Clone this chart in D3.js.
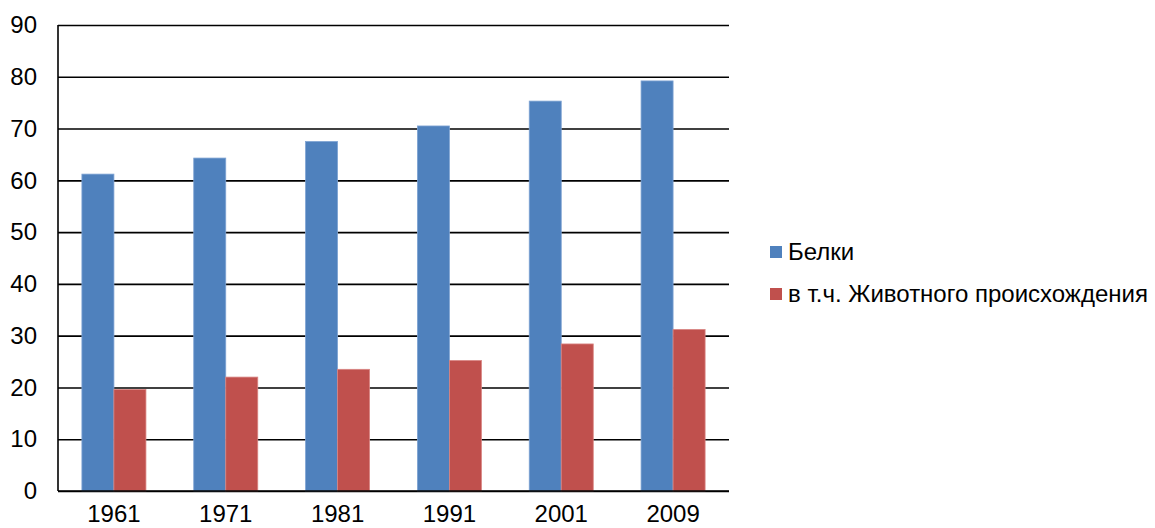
<!DOCTYPE html>
<html>
<head>
<meta charset="utf-8">
<script src="https://cdn.jsdelivr.net/npm/d3@7"></script>
<style>
  body { margin: 0; background: #fff; }
  text { font-family: "Liberation Sans", Arial, sans-serif; fill: #000; }
</style>
</head>
<body>
<svg class="bar-chart"></svg>
<script>
// chart data
let years = ["1961", "1971", "1981", "1991", "2001", "2009"];
let proteins = [61.2, 64.3, 67.5, 70.5, 75.3, 79.2];
let animalProteins = [19.6, 22.0, 23.5, 25.2, 28.4, 31.2];
let seriesNames = ["Белки", "в т.ч. Животного происхождения"];
let yTicks = [0, 10, 20, 30, 40, 50, 60, 70, 80, 90];

let colors = ["#4F81BD", "#C0504D"];
let strokes = ["#7EA3D3", "#D98583"];

let width = 1155;
let height = 528;
let margin = { top: 25, right: 426, bottom: 37, left: 58 };
let fontSize = "24px";

let svg = d3.select(".bar-chart")
    .attr("width", width)
    .attr("height", height);

let plotW = width - margin.left - margin.right;
let plotH = height - margin.top - margin.bottom;

let g = svg.append("g")
    .attr("transform", "translate(" + margin.left + "," + margin.top + ")");

// y scale
let yScale = d3.scaleLinear()
    .domain([0, 90])
    .range([plotH, 0]);

// x scales
let xScale = d3.scaleBand()
    .domain(years)
    .range([0, plotW])
    .paddingInner(0.4275)
    .paddingOuter(0.4275 / 2);

let xInner = d3.scaleBand()
    .domain([0, 1])
    .range([0, xScale.bandwidth()]);

// grid lines
let grid = d3.axisLeft(yScale)
    .tickValues(yTicks)
    .tickSize(-plotW)
    .tickFormat("");

g.append("g")
    .attr("class", "grid")
    .call(grid)
    .call(s => s.select(".domain").remove())
    .selectAll("line")
    .attr("stroke", "#000")
    .attr("stroke-width", 1.6);

// bars
let series = [proteins, animalProteins];
series.forEach(function(vals, si) {
    g.append("g")
        .selectAll("rect")
        .data(vals)
        .enter().append("rect")
        .attr("x", function(d, i) { return xScale(years[i]) + xInner(si); })
        .attr("y", function(d) { return yScale(d); })
        .attr("width", xInner.bandwidth())
        .attr("height", function(d) { return plotH - yScale(d); })
        .attr("fill", colors[si])
        .attr("stroke", strokes[si])
        .attr("stroke-width", 0.8);
});

// y axis labels
let yAxis = d3.axisLeft(yScale)
    .tickValues(yTicks)
    .tickSize(0)
    .tickPadding(21);

g.append("g")
    .attr("class", "y-axis")
    .call(yAxis)
    .attr("font-size", null)
    .attr("font-family", null)
    .call(s => s.select(".domain").remove())
    .selectAll("text")
    .style("font-size", fontSize)
    .attr("fill", "#000");

// axis lines
g.append("line")
    .attr("x1", 0).attr("x2", 0)
    .attr("y1", 0).attr("y2", plotH)
    .attr("stroke", "#000")
    .attr("stroke-width", 1.6);

g.append("line")
    .attr("x1", 0).attr("x2", plotW)
    .attr("y1", plotH).attr("y2", plotH)
    .attr("stroke", "#000")
    .attr("stroke-width", 1.6);

// x axis
let xAxis = d3.axisBottom(xScale)
    .tickSize(0)
    .tickPadding(14);

g.append("g")
    .attr("class", "x-axis")
    .attr("transform", "translate(0," + plotH + ")")
    .call(xAxis)
    .attr("font-size", null)
    .attr("font-family", null)
    .call(s => s.select(".domain").remove())
    .selectAll("text")
    .style("font-size", fontSize)
    .attr("fill", "#000");

// legend
let legend = svg.append("g")
    .attr("class", "legend")
    .attr("transform", "translate(770,246)");

seriesNames.forEach(function(name, i) {
    let row = legend.append("g")
        .attr("transform", "translate(0," + (i * 42) + ")");
    row.append("rect")
        .attr("width", 12)
        .attr("height", 12)
        .attr("fill", colors[i]);
    row.append("text")
        .attr("x", 18)
        .attr("y", 14)
        .style("font-size", fontSize)
        .text(name);
});
</script>
</body>
</html>
